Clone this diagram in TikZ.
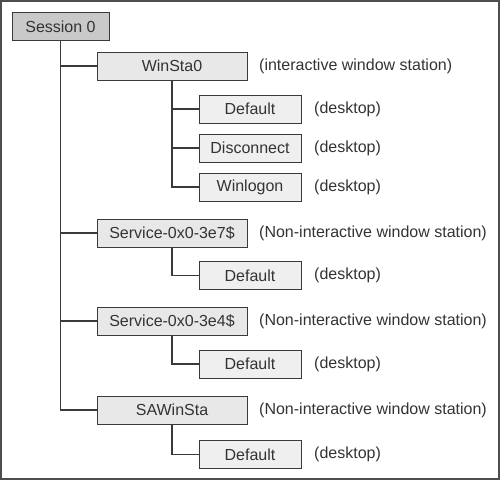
\documentclass[tikz,border=0pt]{standalone}
\usepackage{fontspec}
\setmainfont{Liberation Sans}
\definecolor{txt}{HTML}{333333}
\definecolor{edge}{HTML}{3A3A3A}
\definecolor{darkfill}{HTML}{C9C9C9}
\definecolor{lightfill}{HTML}{E8E8E8}
\begin{document}
\begin{tikzpicture}[x=1pt,y=-1pt,
  every node/.style={font=\fontsize{16}{19}\selectfont, text=txt},
  boxbase/.style={draw=edge, line width=0.9pt, minimum height=28pt, inner sep=0pt},
  rootbox/.style={boxbase, fill=darkfill, minimum width=97pt},
  stabox/.style={boxbase, fill=lightfill, minimum width=150pt},
  deskbox/.style={boxbase, fill=lightfill!70!white, minimum width=102pt},
  note/.style={anchor=west, inner sep=0pt},
  link/.style={draw=edge, line width=1.2pt}
]
\useasboundingbox (0,0) rectangle (500,480);
\draw[draw=edge!90, line width=1.6pt] (1,1) rectangle (499,479);

\node[rootbox] (sess) at (60.5,26.5) {Session 0};

\node[stabox] (w0) at (172,66) {WinSta0};
\node[deskbox] (d1) at (250,109) {Default};
\node[deskbox] (d2) at (250,148) {Disconnect};
\node[deskbox] (d3) at (250,187) {Winlogon};

\node[stabox] (s7) at (172,233) {Service-0x0-3e7\$};
\node[deskbox] (d4) at (250,275.5) {Default};

\node[stabox] (s4) at (172,321) {Service-0x0-3e4\$};
\node[deskbox] (d5) at (250,364) {Default};

\node[stabox] (sa) at (172,410) {SAWinSta};
\node[deskbox] (d6) at (250,454.5) {Default};

\node[note] (n0) at (259,66) {(interactive window station)};
\node[note] (n1) at (314,109) {(desktop)};
\node[note] (n2) at (314,148) {(desktop)};
\node[note] (n3) at (314,187) {(desktop)};
\node[note] (n4) at (259,233) {(Non-interactive window station)};
\node[note] (n5) at (314,275.5) {(desktop)};
\node[note] (n6) at (259,321) {(Non-interactive window station)};
\node[note] (n7) at (314,364) {(desktop)};
\node[note] (n8) at (259,410) {(Non-interactive window station)};
\node[note] (n9) at (314,454.5) {(desktop)};

\path[link] (sess.south) |- (w0.west);
\path[link] (sess.south) |- (s7.west);
\path[link] (sess.south) |- (s4.west);
\path[link] (sess.south) |- (sa.west);
\path[link] (w0.south) |- (d1.west);
\path[link] (w0.south) |- (d2.west);
\path[link] (w0.south) |- (d3.west);
\path[link] (s7.south) |- (d4.west);
\path[link] (s4.south) |- (d5.west);
\path[link] (sa.south) |- (d6.west);
\end{tikzpicture}
\end{document}
